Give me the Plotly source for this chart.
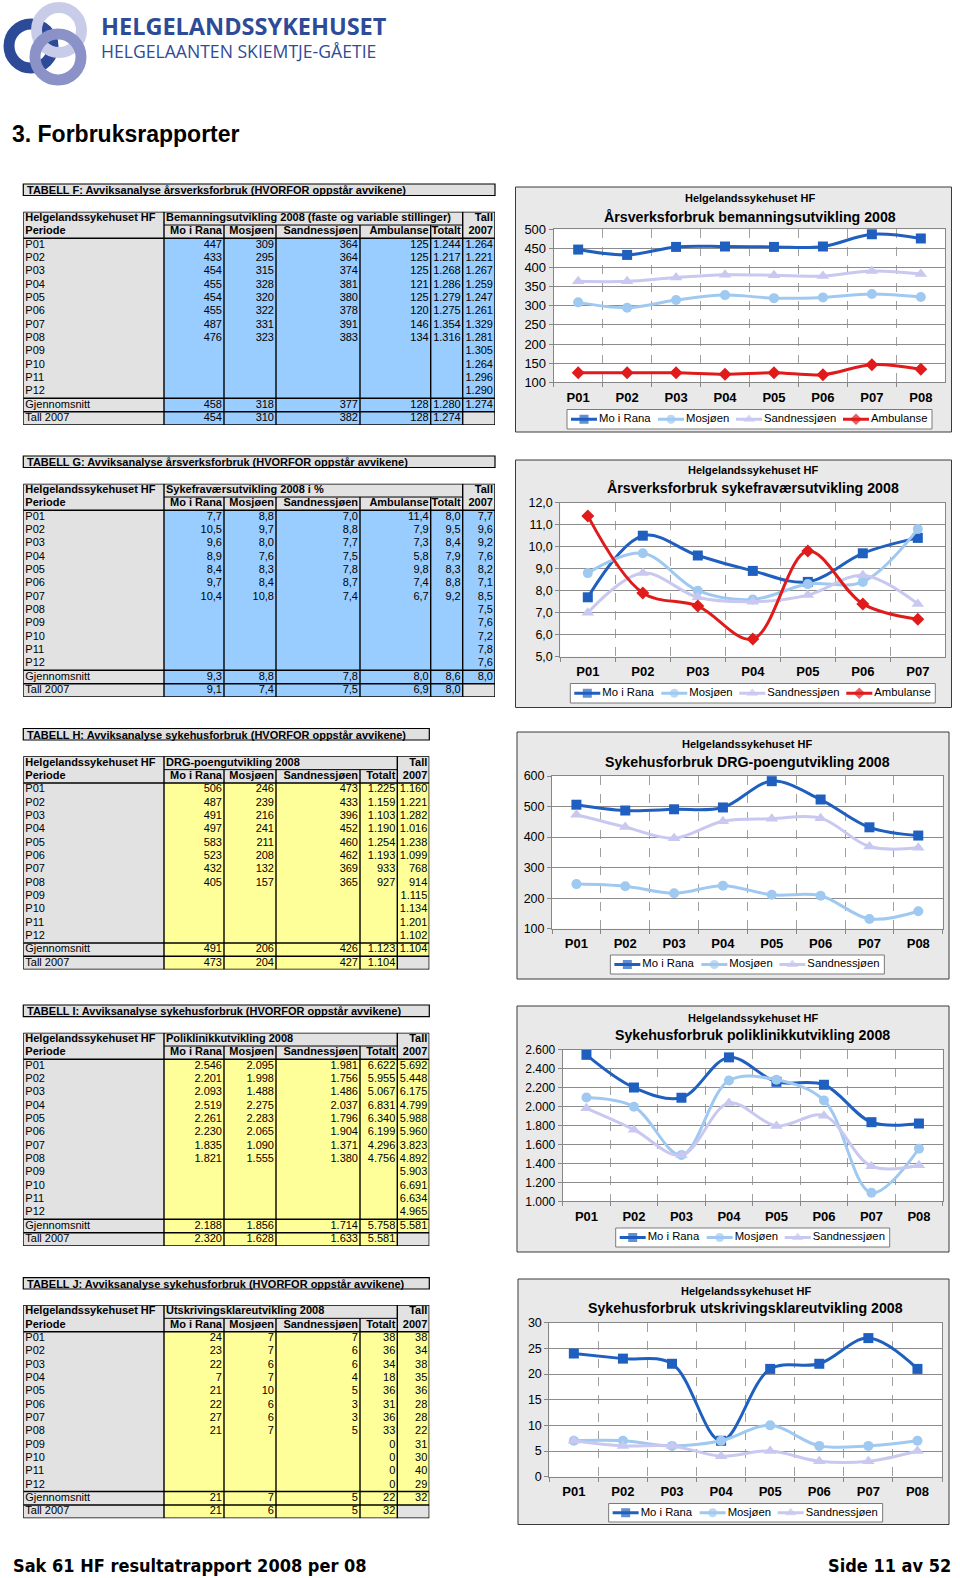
import plotly.graph_objects as go

W, H = 960, 1578
FONT = "Liberation Sans, Arial, Helvetica, sans-serif"
GRAY = "#e2e2e2"
BLUE = "#99ccff"
YELLOW = "#ffff99"
CHART_BG = "#e9e9e9"
MO_C, MOS_C, SAND_C, AMB_C = "#1e5fbf", "#9fc9f0", "#c8c8f0", "#e01b1b"

periods = ["P01", "P02", "P03", "P04", "P05", "P06", "P07", "P08", "P09", "P10", "P11", "P12"]

# ---------------- TABELL F ----------------
f_title = "TABELL F: Avviksanalyse årsverksforbruk (HVORFOR oppstår avvikene)"
f_group = "Bemanningsutvikling 2008 (faste og variable stillinger)"
f_cols = ["Mo i Rana", "Mosjøen", "Sandnessjøen", "Ambulanse", "Totalt"]
f_mo = [447, 433, 454, 455, 454, 455, 487, 476]
f_mos = [309, 295, 315, 328, 320, 322, 331, 323]
f_sand = [364, 364, 374, 381, 380, 378, 391, 383]
f_amb = [125, 125, 125, 121, 125, 120, 146, 134]
f_tot = [1244, 1217, 1268, 1286, 1279, 1275, 1354, 1316]
f_avg = [458, 318, 377, 128, 1280]
f_prev = [454, 310, 382, 128, 1274]
f_2007 = [1264, 1221, 1267, 1259, 1247, 1261, 1329, 1281, 1305, 1264, 1296, 1290]
f_2007_avg = 1274
f_chart_title = "Årsverksforbruk bemanningsutvikling 2008"

# ---------------- TABELL G ----------------
g_title = "TABELL G: Avviksanalyse årsverksforbruk (HVORFOR oppstår avvikene)"
g_group = "Sykefraværsutvikling 2008 i %"
g_cols = ["Mo i Rana", "Mosjøen", "Sandnessjøen", "Ambulanse", "Totalt"]
g_mo = [7.7, 10.5, 9.6, 8.9, 8.4, 9.7, 10.4]
g_mos = [8.8, 9.7, 8.0, 7.6, 8.3, 8.4, 10.8]
g_sand = [7.0, 8.8, 7.7, 7.5, 7.8, 8.7, 7.4]
g_amb = [11.4, 7.9, 7.3, 5.8, 9.8, 7.4, 6.7]
g_tot = [8.0, 9.5, 8.4, 7.9, 8.3, 8.8, 9.2]
g_avg = [9.3, 8.8, 7.8, 8.0, 8.6]
g_prev = [9.1, 7.4, 7.5, 6.9, 8.0]
g_2007 = [7.7, 9.6, 9.2, 7.6, 8.2, 7.1, 8.5, 7.5, 7.6, 7.2, 7.8, 7.6]
g_2007_avg = 8.0
g_chart_title = "Årsverksforbruk sykefraværsutvikling 2008"

# ---------------- TABELL H ----------------
h_title = "TABELL H: Avviksanalyse sykehusforbruk (HVORFOR oppstår avvikene)"
h_group = "DRG-poengutvikling 2008"
h_cols = ["Mo i Rana", "Mosjøen", "Sandnessjøen", "Totalt"]
h_mo = [506, 487, 491, 497, 583, 523, 432, 405]
h_mos = [246, 239, 216, 241, 211, 208, 132, 157]
h_sand = [473, 433, 396, 452, 460, 462, 369, 365]
h_tot = [1225, 1159, 1103, 1190, 1254, 1193, 933, 927]
h_avg = [491, 206, 426, 1123]
h_prev = [473, 204, 427, 1104]
h_2007 = [1160, 1221, 1282, 1016, 1238, 1099, 768, 914, 1115, 1134, 1201, 1102]
h_2007_avg = 1104
h_chart_title = "Sykehusforbruk DRG-poengutvikling 2008"

# ---------------- TABELL I ----------------
i_title = "TABELL I: Avviksanalyse sykehusforbruk (HVORFOR oppstår avvikene)"
i_group = "Poliklinikkutvikling 2008"
i_cols = ["Mo i Rana", "Mosjøen", "Sandnessjøen", "Totalt"]
i_mo = [2546, 2201, 2093, 2519, 2261, 2230, 1835, 1821]
i_mos = [2095, 1998, 1488, 2275, 2283, 2065, 1090, 1555]
i_sand = [1981, 1756, 1486, 2037, 1796, 1904, 1371, 1380]
i_tot = [6622, 5955, 5067, 6831, 6340, 6199, 4296, 4756]
i_avg = [2188, 1856, 1714, 5758]
i_prev = [2320, 1628, 1633, 5581]
i_2007 = [5692, 5448, 6175, 4799, 5988, 5960, 3823, 4892, 5903, 6691, 6634, 4965]
i_2007_avg = 5581
i_chart_title = "Sykehusforbruk poliklinikkutvikling 2008"

# ---------------- TABELL J ----------------
j_title = "TABELL J: Avviksanalyse sykehusforbruk (HVORFOR oppstår avvikene)"
j_group = "Utskrivingsklareutvikling 2008"
j_cols = ["Mo i Rana", "Mosjøen", "Sandnessjøen", "Totalt"]
j_mo = [24, 23, 22, 7, 21, 22, 27, 21]
j_mos = [7, 7, 6, 7, 10, 6, 6, 7]
j_sand = [7, 6, 6, 4, 5, 3, 3, 5]
j_tot = [38, 36, 34, 18, 36, 31, 36, 33, 0, 0, 0, 0]
j_avg = [21, 7, 5, 22]
j_prev = [21, 6, 5, 32]
j_2007 = [38, 34, 38, 35, 36, 28, 28, 22, 31, 30, 40, 29]
j_2007_avg = 32
j_chart_title = "Sykehusforbruk utskrivingsklareutvikling 2008"


def X(px):
    return px / W


def Y(py):
    return 1 - py / H


def fmt_int(v):
    return f"{v:,}".replace(",", ".")


def fmt_dec(v):
    return f"{v:.1f}".replace(".", ",")


traces, shapes, annotations = [], [], []
layout = dict(width=W, height=H, margin=dict(l=0, r=0, t=0, b=0, autoexpand=False),
              paper_bgcolor="white", plot_bgcolor="white", separators=",.",
              hovermode=False, showlegend=False, font=dict(family=FONT, color="black"))


def ann(text, x, y, size, bold=False, xanchor="left", color="black", family=FONT, align="left"):
    annotations.append(dict(text=text, x=X(x), y=Y(y), xref="paper", yref="paper",
                            xanchor=xanchor, yanchor="middle", showarrow=False, align=align,
                            font=dict(size=size, family=family, color=color,
                                      weight="bold" if bold else "normal")))


# ---------------- page header / logo ----------------
for cx, cy, r, col in [(31, 46, 22, "#2c4a97"), (59, 30, 22.5, "#c9cce8"), (58, 57, 23, "#8b92c8")]:
    shapes.append(dict(type="circle", xref="paper", yref="paper",
                       x0=X(cx - r), x1=X(cx + r), y0=Y(cy + r), y1=Y(cy - r),
                       line=dict(color=col, width=11), fillcolor="rgba(0,0,0,0)"))
ann("<span style='font-size:23.5px'><b>HELGELANDSSYKEHUSET</b></span><br>HELGELAANTEN SKIEMTJE-GÅETIE",
    99, 36.5, 17.6, False, color="#2e4b97", family="Open Sans, Noto Sans, sans-serif")
ann("3. Forbruksrapporter", 10, 134, 23, True)
NARROW = "Liberation Sans Narrow, Arial Narrow, DejaVu Sans Condensed, Liberation Sans, sans-serif"
ann("Sak 61 HF resultatrapport 2008 per 08", 11, 1565, 18, True, family=NARROW)
ann("Side 11 av 52", 953, 1565, 18, True, xanchor="right", family=NARROW)


# ---------------- tables ----------------
def add_table(k, title, group, colnames, data_cols, avg_row, prev_row, col2007, avg2007,
              fill, fmt, widths, x_left, title_top, title_bot, table_top, row_h=13.33):
    s = str(k)
    xr, yr = "x" + s, "y" + s
    labels = ["Helgelandssykehuset HF", "Periode"] + periods + ["Gjennomsnitt", "Tall 2007"]
    nrows = len(labels)
    ncol = len(widths)
    edges = [0]
    for w in widths:
        edges.append(edges[-1] + w)
    total = edges[-1]
    layout["xaxis" + s] = dict(domain=[X(x_left), X(x_left + total)], range=[0, total],
                               visible=False, fixedrange=True, anchor=yr)
    layout["yaxis" + s] = dict(domain=[Y(table_top + nrows * row_h), Y(table_top)],
                               range=[nrows, 0], visible=False, fixedrange=True, anchor=xr)
    shapes.append(dict(type="rect", xref="paper", yref="paper", x0=X(x_left), x1=X(x_left + total),
                       y0=Y(title_bot), y1=Y(title_top), fillcolor="#e0e0e0",
                       line=dict(color="black", width=1.2)))
    ann(title, x_left + 2, (title_top + title_bot) / 2 + 0.5, 11, True)
    z = []
    for r in range(nrows):
        row = []
        for c in range(ncol):
            data_cell = r >= 2 and c >= 1 and not (r == nrows - 1 and c == ncol - 1)
            row.append(1 if data_cell else 0)
        z.append(row)
    traces.append(go.Heatmap(x=edges, y=list(range(nrows + 1)), z=z, zmin=0, zmax=1,
                             colorscale=[[0, GRAY], [0.5, GRAY], [0.5, fill], [1, fill]],
                             showscale=False, hoverinfo="skip", xaxis=xr, yaxis=yr))
    pad = 2
    bl_x = [pad, pad, edges[1] + pad]
    bl_y = [0.5, 1.5, 0.5]
    bl_t = [labels[0], labels[1], group]
    br_x = [edges[-1] - pad]
    br_y = [0.5]
    br_t = ["Tall"]
    for c, name in enumerate(colnames + ["2007"]):
        br_x.append(edges[c + 2] - pad)
        br_y.append(1.5)
        br_t.append(name)
    nl_x = [pad] * (nrows - 2)
    nl_y = [r + 0.5 for r in range(2, nrows)]
    nl_t = labels[2:]
    nr_x, nr_y, nr_t = [], [], []
    for c, col in enumerate(data_cols):
        xx = edges[c + 2] - pad
        for i, v in enumerate(col):
            nr_x.append(xx); nr_y.append(2 + i + 0.5); nr_t.append(fmt(v))
        nr_x.append(xx); nr_y.append(nrows - 2 + 0.5); nr_t.append(fmt(avg_row[c]))
        nr_x.append(xx); nr_y.append(nrows - 1 + 0.5); nr_t.append(fmt(prev_row[c]))
    xx = edges[-1] - pad
    for i, v in enumerate(col2007):
        nr_x.append(xx); nr_y.append(2 + i + 0.5); nr_t.append(fmt(v))
    nr_x.append(xx); nr_y.append(nrows - 2 + 0.5); nr_t.append(fmt(avg2007))
    for xs, ys, ts, pos, wt in [(bl_x, bl_y, bl_t, "middle right", "bold"),
                                (br_x, br_y, br_t, "middle left", "bold"),
                                (nl_x, nl_y, nl_t, "middle right", "normal"),
                                (nr_x, nr_y, nr_t, "middle left", "normal")]:
        traces.append(go.Scatter(x=xs, y=ys, text=ts, mode="text", textposition=pos,
                                 textfont=dict(family=FONT, size=11, color="black", weight=wt),
                                 showlegend=False, hoverinfo="skip", cliponaxis=False,
                                 xaxis=xr, yaxis=yr))

    def line(x0, x1, y0, y1, w):
        shapes.append(dict(type="line", xref=xr, yref=yr, x0=x0, x1=x1, y0=y0, y1=y1,
                           line=dict(color="black", width=w)))
    for yy in [0, 2, nrows - 2, nrows - 1, nrows]:
        line(0, total, yy, yy, 1.5)
    line(edges[1], edges[-2], 1, 1, 1)
    for xx in [edges[0], edges[1], edges[-2], edges[-1]]:
        line(xx, xx, 0, nrows, 1.4)
    for xx in edges[2:-2]:
        line(xx, xx, 1, nrows, 1.4)


wF = [140.7, 60, 52, 84, 70.7, 32, 32.3]
wH = [140.7, 60, 52, 84, 37.3, 32]
add_table(6, f_title, f_group, f_cols, [f_mo, f_mos, f_sand, f_amb, f_tot], f_avg, f_prev,
          f_2007, f_2007_avg, BLUE, fmt_int, wF, 23.3, 184, 195.5, 211.7)
add_table(7, g_title, g_group, g_cols, [g_mo, g_mos, g_sand, g_amb, g_tot], g_avg, g_prev,
          g_2007, g_2007_avg, BLUE, fmt_dec, wF, 23.3, 456, 467.5, 483.7)
add_table(8, h_title, h_group, h_cols, [h_mo, h_mos, h_sand, h_tot], h_avg, h_prev,
          h_2007, h_2007_avg, YELLOW, fmt_int, wH, 23.3, 728.5, 740, 756.3)
add_table(9, i_title, i_group, i_cols, [i_mo, i_mos, i_sand, i_tot], i_avg, i_prev,
          i_2007, i_2007_avg, YELLOW, fmt_int, wH, 23.3, 1005, 1016.7, 1032.7)
add_table(10, j_title, j_group, j_cols, [j_mo, j_mos, j_sand, j_tot], j_avg, j_prev,
          j_2007, j_2007_avg, YELLOW, fmt_int, wH, 23.3, 1277.7, 1289, 1305)

# legend text widths (layout constants, px at 11.3px Arial)
LEG_TW = {"Mo i Rana": 52, "Mosjøen": 43, "Sandnessjøen": 72, "Ambulanse": 56}


# ---------------- charts ----------------
def add_chart(k, series, box, plot, small_y, main_y, title, yax, legend_box, ytick_size=12.5):
    s = "" if k == 1 else str(k)
    xr, yr = "x" + s, "y" + s
    cats = periods[:len(series[0][1])]
    bx0, by0, bx1, by1 = box
    px0, py0, px1, py1 = plot
    shapes.append(dict(type="rect", xref="paper", yref="paper", x0=X(bx0), x1=X(bx1),
                       y0=Y(by1), y1=Y(by0), fillcolor=CHART_BG,
                       line=dict(color="#3a3a3a", width=1), layer="below"))
    shapes.append(dict(type="rect", xref=xr + " domain", yref=yr + " domain", x0=0, x1=1,
                       y0=0, y1=1, fillcolor="white", line=dict(width=0), layer="below"))
    layout["xaxis" + s] = dict(domain=[X(px0), X(px1)], anchor=yr, type="category",
                               categoryorder="array", categoryarray=cats,
                               range=[-0.5, len(cats) - 0.5], tickson="boundaries",
                               showgrid=True, gridcolor="#a0a0a0", griddash="dash", gridwidth=1,
                               showline=True, mirror=True, linecolor="#868686", linewidth=1,
                               ticks="outside", ticklen=4, tickcolor="#868686",
                               tickfont=dict(size=13, family=FONT, color="black", weight="bold"),
                               ticklabelstandoff=3, fixedrange=True, zeroline=False)
    ya = dict(domain=[Y(py1), Y(py0)], anchor=xr, showgrid=True, gridcolor="#8c8c8c",
              gridwidth=1, showline=True, mirror=True, linecolor="#868686", linewidth=1,
              ticks="outside", ticklen=4, tickcolor="#868686",
              tickfont=dict(size=ytick_size, family=FONT, color="black"),
              zeroline=False, fixedrange=True)
    ya.update(yax)
    layout["yaxis" + s] = ya
    for name, vals, col, sym, size in series:
        traces.append(go.Scatter(x=cats, y=vals, name=name, mode="lines+markers",
                                 line=dict(color=col, width=3, shape="spline", smoothing=1),
                                 marker=dict(symbol=sym, size=size, color=col),
                                 showlegend=False, xaxis=xr, yaxis=yr, cliponaxis=False,
                                 hoverinfo="skip"))
    cx = (px0 + px1) / 2
    ann("Helgelandssykehuset HF", cx, small_y, 11, True, xanchor="center")
    ann(title, cx, main_y, 14.2, True, xanchor="center")

    # legend (own box, below the category labels)
    lk = str(10 + k)
    lxr, lyr = "x" + lk, "y" + lk
    sym_len, gap_t, gap_i, edge = 26, 3, 6, 4
    total = 2 * edge + sum(sym_len + gap_t + LEG_TW[n] for n, *_ in series) + gap_i * (len(series) - 1)
    ltop, lbot = legend_box
    lx0 = cx - total / 2
    layout["xaxis" + lk] = dict(domain=[X(lx0), X(lx0 + total)], range=[0, total],
                                visible=False, fixedrange=True, anchor=lyr)
    layout["yaxis" + lk] = dict(domain=[Y(lbot), Y(ltop)], range=[0, 1],
                                visible=False, fixedrange=True, anchor=lxr)
    shapes.append(dict(type="rect", xref=lxr + " domain", yref=lyr + " domain", x0=0, x1=1,
                       y0=0, y1=1, fillcolor="white", line=dict(color="#7a7a7a", width=1),
                       layer="below"))
    pos = edge
    for name, vals, col, sym, size in series:
        traces.append(go.Scatter(x=[pos, pos + sym_len / 2, pos + sym_len], y=[0.5, 0.5, 0.5],
                                 mode="lines+markers", line=dict(color=col, width=3),
                                 marker=dict(symbol=sym, size=[0, size - 1, 0], color=col,
                                             line=dict(width=0)),
                                 showlegend=False, hoverinfo="skip", cliponaxis=False,
                                 xaxis=lxr, yaxis=lyr))
        traces.append(go.Scatter(x=[pos + sym_len + gap_t - 1], y=[0.5], text=[name], mode="text",
                                 textposition="middle right",
                                 textfont=dict(family=FONT, size=11.3, color="black"),
                                 showlegend=False, hoverinfo="skip", cliponaxis=False,
                                 xaxis=lxr, yaxis=lyr))
        pos += sym_len + gap_t + LEG_TW[name] + gap_i


def sers(mo, mos, sand, amb=None):
    out = [("Mo i Rana", mo, MO_C, "square", 10),
           ("Mosjøen", mos, MOS_C, "circle", 10),
           ("Sandnessjøen", sand, SAND_C, "triangle-up", 11)]
    if amb is not None:
        out.append(("Ambulanse", amb, AMB_C, "diamond", 10))
    return out


add_chart(1, sers(f_mo, f_mos, f_sand, f_amb), (515.5, 187, 951.5, 432),
          (553.7, 229.3, 945.3, 382.3), 198.3, 216.7, f_chart_title,
          dict(range=[100, 500], dtick=50, tick0=0), (409.5, 429), 13)
add_chart(2, sers(g_mo, g_mos, g_sand, g_amb), (515.5, 460, 951.5, 707.5),
          (560.3, 502.7, 945.3, 656.7), 470, 488.3, g_chart_title,
          dict(range=[5, 12], dtick=1, tick0=0, tickformat=".1f"), (683.5, 703))
add_chart(3, sers(h_mo, h_mos, h_sand), (517, 732, 949, 979),
          (552, 776, 942.7, 928.7), 744.3, 762, h_chart_title,
          dict(range=[100, 600], dtick=100, tick0=0), (955, 974))
add_chart(4, sers(i_mo, i_mos, i_sand), (517, 1006, 949, 1252),
          (562.7, 1049.7, 942.7, 1201.3), 1018, 1035.3, i_chart_title,
          dict(range=[1000, 2600], dtick=200, tick0=0, tickformat=",d"), (1228, 1247), 12)
add_chart(5, sers(j_mo, j_mos, j_sand), (518, 1279, 949, 1524.5),
          (549.3, 1322.7, 942, 1476.7), 1290.7, 1308.3, j_chart_title,
          dict(range=[0, 30], dtick=5, tick0=0), (1503.5, 1522))

layout["shapes"] = shapes
layout["annotations"] = annotations
fig = go.Figure(data=traces, layout=layout)
fig.write_html("out.html", config={"displayModeBar": False, "staticPlot": True},
               post_script="document.body.style.margin='0px';")
